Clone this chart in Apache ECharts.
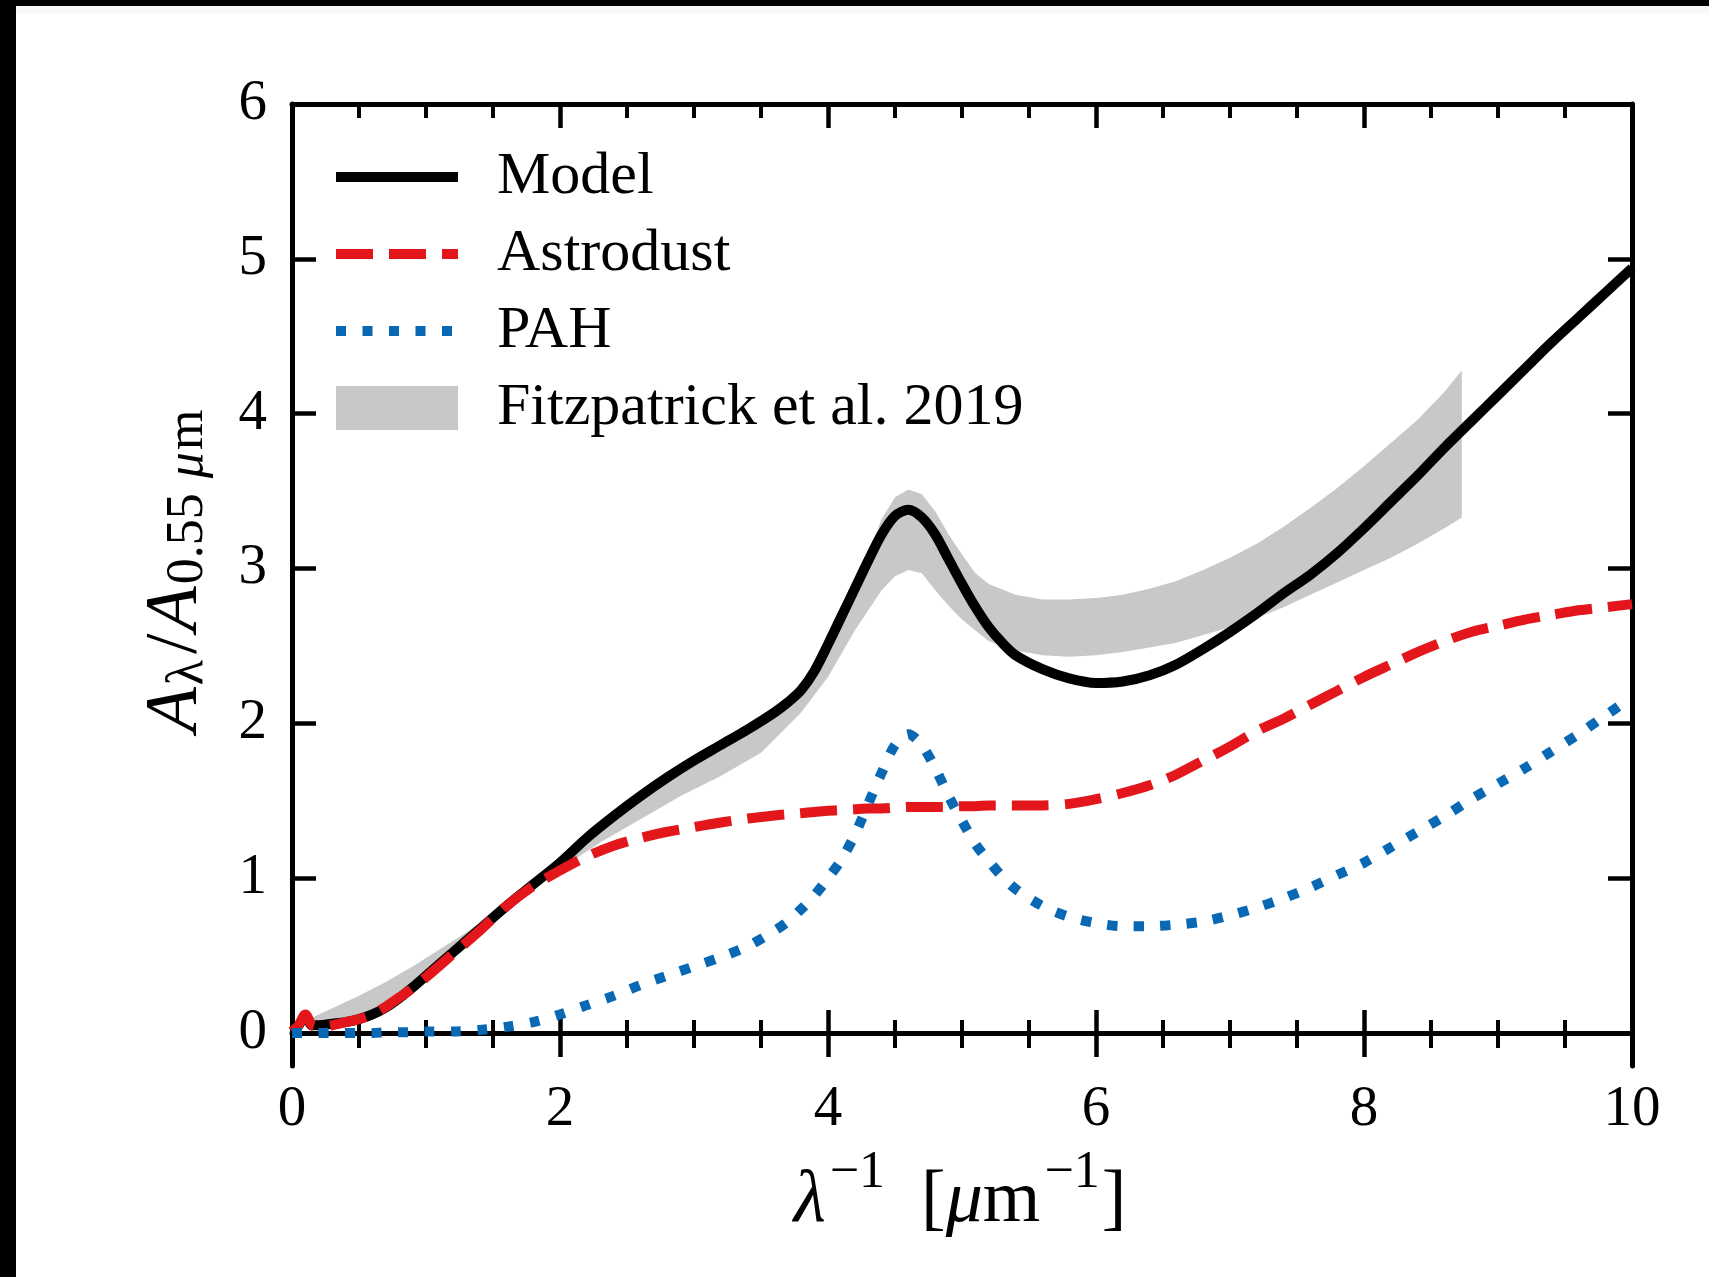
<!DOCTYPE html>
<html>
<head>
<meta charset="utf-8">
<script src="https://cdn.jsdelivr.net/npm/echarts@6/dist/echarts.min.js"></script>
<style>
  html, body { margin: 0; padding: 0; background: #ffffff; }
  #chart { width: 1709px; height: 1277px; }
</style>
</head>
<body>
<div id="chart"></div>
<script>
// Inverse wavelength grid (1/micron)
const waveNumber = [0, 0.05, 0.1, 0.15, 0.2, 0.3, 0.4, 0.5, 0.6, 0.7, 0.8, 0.9, 1.0,
  1.2, 1.4, 1.6, 1.8, 2.0, 2.2, 2.4, 2.6, 2.8, 3.0, 3.2, 3.4, 3.6, 3.7, 3.8, 3.9, 4.0,
  4.1, 4.2, 4.3, 4.4, 4.5, 4.6, 4.7, 4.8, 4.9, 5.0, 5.1, 5.2, 5.3, 5.4,
  5.6, 5.8, 6.0, 6.2, 6.4, 6.6, 6.8, 7.0, 7.2, 7.4, 7.6, 7.8, 8.0, 8.2, 8.4,
  8.6, 8.8, 9.0, 9.2, 9.4, 9.6, 9.8, 10.0];

// Total model extinction, A_lambda / A_0.55um
const modelExt = [0.01, 0.05, 0.11, 0.05, 0.05, 0.06, 0.07, 0.09, 0.12, 0.165, 0.225, 0.295, 0.37,
  0.52, 0.67, 0.82, 0.96, 1.10, 1.26, 1.40, 1.53, 1.65, 1.76, 1.86, 1.96, 2.07, 2.135, 2.215, 2.34, 2.51,
  2.69, 2.87, 3.05, 3.22, 3.34, 3.38, 3.33, 3.22, 3.06, 2.90, 2.75, 2.62, 2.52, 2.44,
  2.35, 2.29, 2.26, 2.27, 2.31, 2.38, 2.48, 2.59, 2.71, 2.84, 2.96, 3.10, 3.26, 3.43, 3.60,
  3.78, 3.95, 4.12, 4.29, 4.46, 4.62, 4.78, 4.94];

// Astrodust grain contribution
const astrodustExt = [0.01, 0.05, 0.12, 0.05, 0.04, 0.05, 0.07, 0.09, 0.12, 0.17, 0.23, 0.29, 0.36,
  0.51, 0.66, 0.82, 0.95, 1.05, 1.14, 1.21, 1.26, 1.30, 1.33, 1.36, 1.385, 1.405, 1.413, 1.42, 1.428, 1.435,
  1.44, 1.445, 1.45, 1.45, 1.455, 1.46, 1.46, 1.46, 1.46, 1.465, 1.465, 1.47, 1.47, 1.47,
  1.47, 1.48, 1.51, 1.55, 1.60, 1.67, 1.76, 1.85, 1.95, 2.03, 2.12, 2.21, 2.30, 2.38, 2.46,
  2.53, 2.59, 2.63, 2.67, 2.70, 2.73, 2.75, 2.77];

// PAH contribution
const pahExt = [0, 0, 0, 0, 0, 0, 0, 0, 0, 0.005, 0.005, 0.005, 0.01,
  0.01, 0.02, 0.04, 0.07, 0.12, 0.18, 0.24, 0.31, 0.37, 0.43, 0.49, 0.56, 0.66, 0.72, 0.80, 0.89, 1.00,
  1.12, 1.28, 1.48, 1.68, 1.86, 1.93, 1.86, 1.71, 1.53, 1.37, 1.22, 1.11, 1.01, 0.93,
  0.82, 0.75, 0.71, 0.69, 0.69, 0.70, 0.72, 0.76, 0.81, 0.87, 0.94, 1.02, 1.10, 1.20, 1.30,
  1.40, 1.51, 1.61, 1.71, 1.82, 1.93, 2.05, 2.17];

// Fitzpatrick et al. (2019) mean curve range
const fitzX = [0.1, 0.3, 0.5, 0.7, 0.9, 1.1, 1.3, 1.5, 1.7, 2.0, 2.3, 2.6, 2.9, 3.2, 3.5, 3.8,
  4.0, 4.2, 4.4, 4.5, 4.6, 4.7, 4.8, 4.9, 5.0, 5.1, 5.2, 5.4, 5.6, 5.8,
  6.0, 6.2, 6.4, 6.6, 6.8, 7.0, 7.2, 7.4, 7.6, 7.8, 8.0, 8.2, 8.4, 8.6, 8.73];
const fitzLow = [0.06, 0.06, 0.08, 0.15, 0.27, 0.43, 0.57, 0.72, 0.87, 1.06, 1.23, 1.38, 1.53, 1.66, 1.81, 2.07,
  2.30, 2.60, 2.86, 2.95, 2.99, 2.97, 2.86, 2.76, 2.67, 2.60, 2.53, 2.47, 2.44, 2.43,
  2.44, 2.46, 2.49, 2.52, 2.57, 2.62, 2.68, 2.75, 2.83, 2.91, 2.99, 3.07, 3.16, 3.26, 3.33];
const fitzHigh = [0.08, 0.16, 0.24, 0.33, 0.43, 0.54, 0.65, 0.77, 0.92, 1.12, 1.33, 1.52, 1.70, 1.86, 2.00, 2.21,
  2.52, 2.86, 3.32, 3.46, 3.51, 3.48, 3.37, 3.22, 3.09, 2.97, 2.90, 2.83, 2.80, 2.80,
  2.81, 2.83, 2.87, 2.92, 2.99, 3.07, 3.16, 3.27, 3.39, 3.52, 3.66, 3.81, 3.96, 4.14, 4.28];

const yTickValues = [0, 1, 2, 3, 4, 5, 6];
const seriesNames = ['Model', 'Astrodust', 'PAH', 'Fitzpatrick et al. 2019'];

const SERIF = '"Liberation Serif", "DejaVu Serif", serif';
const LW = 10;
const SMOOTH = 0.3;

const pairs = (ys) => waveNumber.map((x, i) => [x, ys[i]]);

const chart = echarts.init(document.getElementById('chart'), null, { renderer: 'canvas' });

const axisLineStyle = { color: '#000', width: 5 };
const tickStyle = { color: '#000', width: 4.5 };
const minorStyle = { color: '#000', width: 4 };

const mainText = (extra) => Object.assign({ fontFamily: SERIF, fontSize: 74, lineHeight: 92, verticalAlign: 'bottom', fill: '#000' }, extra || {});
const smallText = (extra) => Object.assign({ fontFamily: SERIF, fontSize: 52, lineHeight: 52, fill: '#000' }, extra || {});

const option = {
  animation: false,
  backgroundColor: '#ffffff',
  grid: { left: 292, top: 104, right: 77, bottom: 211, containLabel: false },
  xAxis: [
    {
      type: 'value', min: 0, max: 10, interval: 2, position: 'bottom',
      axisLine: { show: true, onZero: true, lineStyle: axisLineStyle },
      axisTick: { show: true, inside: false, length: 24, lineStyle: tickStyle },
      minorTick: { show: true, splitNumber: 4, length: 15, lineStyle: minorStyle },
      axisLabel: { show: true, margin: 16, color: '#000', fontFamily: SERIF, fontSize: 57,
        formatter: (v) => String(v) },
      splitLine: { show: false }, minorSplitLine: { show: false }
    },
    {
      type: 'value', min: 0, max: 10, interval: 2, position: 'bottom',
      axisLine: { show: false, onZero: true },
      axisTick: { show: true, inside: true, length: 23, lineStyle: tickStyle },
      minorTick: { show: true, splitNumber: 4, length: 13, lineStyle: minorStyle },
      axisLabel: { show: false },
      splitLine: { show: false }, minorSplitLine: { show: false }
    },
    {
      type: 'value', min: 0, max: 10, interval: 2, position: 'top',
      axisLine: { show: true, onZero: false, lineStyle: axisLineStyle },
      axisTick: { show: true, inside: true, length: 24, lineStyle: tickStyle },
      minorTick: { show: true, splitNumber: 4, length: 14, lineStyle: minorStyle },
      axisLabel: { show: false },
      splitLine: { show: false }, minorSplitLine: { show: false }
    }
  ],
  yAxis: [
    {
      type: 'value', min: -0.213, max: 6, position: 'left',
      axisLine: { show: true, onZero: false, lineStyle: axisLineStyle },
      axisTick: { show: true, inside: true, length: 24, lineStyle: tickStyle, customValues: yTickValues },
      axisLabel: { show: true, margin: 25, color: '#000', fontFamily: SERIF, fontSize: 57,
        customValues: yTickValues, formatter: (v) => String(v) },
      splitLine: { show: false }
    },
    {
      type: 'value', min: -0.213, max: 6, position: 'right',
      axisLine: { show: true, onZero: false, lineStyle: axisLineStyle },
      axisTick: { show: true, inside: true, length: 24, lineStyle: tickStyle, customValues: yTickValues },
      axisLabel: { show: false },
      splitLine: { show: false }
    }
  ],
  legend: {
    orient: 'vertical', left: 331, top: 147, padding: 0,
    itemWidth: 122, itemHeight: 44, itemGap: 17,
    textStyle: { color: '#000', fontFamily: SERIF, fontSize: 60, padding: [0, 0, 0, 34] },
    lineStyle: { width: LW },
    itemStyle: { opacity: 0 },
    selectedMode: false,
    data: [
      { name: seriesNames[0] },
      { name: seriesNames[1] },
      { name: seriesNames[2] },
      { name: seriesNames[3], icon: 'rect', itemStyle: { opacity: 1, color: '#c8c8c8' } }
    ]
  },
  series: [
    {
      name: seriesNames[3], type: 'custom', z: 1, clip: true,
      itemStyle: { color: '#c8c8c8' },
      data: [0],
      renderItem: function (params, api) {
        const upper = fitzX.map((x, i) => api.coord([x, fitzHigh[i]]));
        const lower = fitzX.map((x, i) => api.coord([x, fitzLow[i]])).reverse();
        return {
          type: 'polygon',
          shape: { points: upper.concat(lower) },
          style: { fill: '#c8c8c8' }
        };
      }
    },
    {
      name: seriesNames[0], type: 'line', z: 2, symbol: 'none', showSymbol: false,
      smooth: SMOOTH, color: '#000000',
      lineStyle: { color: '#000000', width: LW, cap: 'butt', join: 'round' },
      data: pairs(modelExt)
    },
    {
      name: seriesNames[1], type: 'line', z: 3, symbol: 'none', showSymbol: false,
      smooth: SMOOTH, color: '#e3171b',
      lineStyle: { color: '#e3171b', width: LW, type: [37, 16], cap: 'butt', join: 'round' },
      data: pairs(astrodustExt)
    },
    {
      name: seriesNames[2], type: 'line', z: 4, symbol: 'none', showSymbol: false,
      smooth: SMOOTH, color: '#0868b4',
      lineStyle: { color: '#0868b4', width: LW, type: [10, 16.5], cap: 'butt', join: 'round' },
      data: pairs(pahExt)
    }
  ],
  graphic: [
    // page frame
    { type: 'rect', shape: { x: 0, y: 0, width: 16, height: 1277 }, style: { fill: '#000' }, silent: true },
    { type: 'rect', shape: { x: 0, y: 0, width: 1709, height: 6 }, style: { fill: '#000' }, silent: true },
    { type: 'rect', shape: { x: 16, y: 6, width: 1693, height: 7 }, style: { fill: '#f7f7f7' }, silent: true },
    // x axis title
    {
      type: 'text', x: 960, y: 1193, silent: true,
      style: {
        text: '{it|λ}{sup|−1}{sp| }{rm|[}{it|μ}{rm|m}{sup|−1}{rm|]}',
        align: 'center', verticalAlign: 'middle',
        rich: {
          it: mainText({ fontStyle: 'italic' }),
          rm: mainText(),
          sup: smallText({ verticalAlign: 'top', padding: [0, 2, 0, 4] }),
          sp: mainText({ width: 34 })
        }
      }
    },
    // y axis title
    {
      type: 'text', x: 168, y: 570, rotation: Math.PI / 2, silent: true,
      style: {
        text: '{it|A}{sub|λ}{rm|/}{it|A}{sub|0.55 }{subit|μ}{sub|m}',
        align: 'center', verticalAlign: 'middle',
        rich: {
          it: mainText({ fontStyle: 'italic' }),
          rm: mainText({ padding: [0, 2, 0, 4] }),
          sub: smallText({ verticalAlign: 'bottom', padding: [0, 2, 0, 2] }),
          subit: smallText({ verticalAlign: 'bottom', fontStyle: 'italic' })
        }
      }
    }
  ]
};

chart.setOption(option);
</script>
</body>
</html>
